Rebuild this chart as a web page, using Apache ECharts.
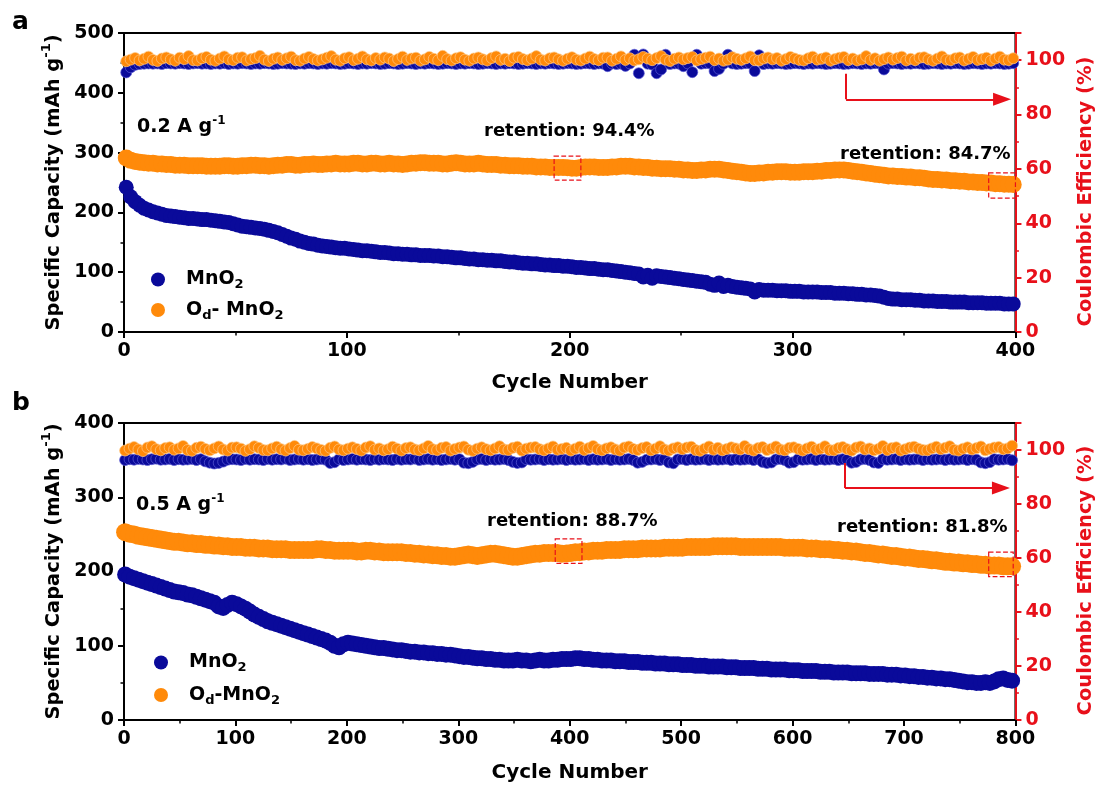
<!DOCTYPE html>
<html>
<head>
<meta charset="utf-8">
<script src="https://cdn.jsdelivr.net/npm/echarts@6/dist/echarts.min.js"></script>
<style>
  html, body { margin: 0; padding: 0; background: #fff; }
  #chart { width: 1104px; height: 785px; }
</style>
</head>
<body>
<div id="chart"></div>
<script>
// ---------- Panel a: 0.2 A g-1, sampled every 2nd cycle ----------
const cyclesA = Array.from({ length: 200 }, (_, i) => 1 + 2 * i);

const capA_MnO2 = [
  242, 226, 218, 212, 207, 204, 201, 199, 197, 195, 194, 193, 192, 191, 190, 190, 189, 188, 188, 187,
  186, 185, 184, 183, 181, 179, 177, 176, 175, 174, 173, 172, 170, 168, 166, 163, 160, 157, 155, 152,
  150, 148, 147, 145, 144, 143, 142, 141, 140, 140, 139, 138, 137, 136, 136, 135, 134, 133, 133, 132,
  131, 131, 130, 130, 129, 129, 128, 128, 128, 127, 127, 126, 126, 125, 124, 124, 123, 122, 122, 121,
  121, 120, 120, 119, 119, 118, 117, 117, 116, 115, 115, 114, 114, 113, 112, 112, 111, 111, 110, 110,
  109, 108, 108, 107, 106, 106, 105, 104, 104, 103, 102, 101, 100, 99, 98, 97, 92, 95, 90, 94,
  93, 92, 91, 90, 89, 88, 87, 86, 85, 84, 83, 80, 78, 82, 76, 78, 76, 75, 74, 73,
  72, 67, 71, 70, 70, 70, 69, 69, 69, 68, 68, 68, 67, 67, 67, 67, 66, 66, 66, 65,
  65, 65, 64, 64, 63, 63, 62, 62, 61, 60, 58, 56, 55, 55, 54, 54, 54, 53, 53, 52,
  52, 52, 51, 51, 51, 50, 50, 50, 50, 49, 49, 49, 49, 48, 48, 48, 48, 47, 47, 47
];

const capA_Od = [
  291, 287, 285, 284, 283, 282, 282, 281, 281, 280, 280, 279, 279, 279, 278, 278, 278, 278, 277, 277,
  277, 277, 278, 278, 277, 277, 278, 278, 279, 279, 278, 278, 277, 278, 279, 279, 280, 280, 279, 279,
  280, 280, 281, 280, 280, 281, 281, 282, 281, 281, 281, 282, 282, 281, 281, 282, 282, 281, 281, 282,
  281, 281, 280, 281, 282, 282, 283, 283, 282, 282, 282, 281, 281, 282, 283, 282, 281, 281, 281, 282,
  281, 280, 280, 280, 279, 279, 278, 278, 278, 277, 277, 277, 276, 276, 276, 275, 275, 275, 275, 274.7,
  274, 274, 275, 276, 276, 276, 275, 275, 275, 276, 276, 277, 277, 277, 276, 276, 275, 275, 274, 274,
  273, 273, 273, 272, 272, 271, 271, 270, 270, 271, 271, 272, 272, 272, 271, 270, 269, 268, 267, 266,
  265, 265, 266, 266, 267, 267, 268, 268, 268, 267, 267, 267, 268, 268, 268, 269, 269, 270, 270, 271,
  271, 271, 270, 269, 268, 267, 266, 265, 264, 263, 262, 261, 261, 260, 260, 259, 259, 258, 258, 257,
  256, 255, 255, 254, 254, 253, 253, 252, 252, 251, 251, 250, 250, 249, 249, 248, 248, 247, 247, 246.5
];

const ceA_MnO2 = [
  95.5, 97.4, 98.3, 98.6, 98.7, 98.8, 98.7, 98.8, 98.6, 98.9, 98.8, 98.7, 98.9, 98.8, 98.6, 98.8, 98.9, 98.7, 98.8, 98.6,
  98.8, 98.7, 98.9, 98.6, 98.8, 98.7, 98.9, 98.8, 98.6, 98.8, 98.7, 98.9, 98.8, 98.6, 98.7, 98.9, 98.8, 98.7, 98.6, 98.8,
  98.7, 98.9, 98.8, 98.6, 98.8, 98.7, 98.9, 98.8, 98.6, 98.7, 98.9, 98.8, 98.6, 98.8, 98.7, 98.9, 98.8, 98.6, 98.7, 98.9,
  98.8, 98.6, 98.7, 98.9, 98.8, 98.6, 98.8, 98.7, 98.9, 98.8, 98.6, 98.7, 98.9, 98.8, 98.6, 98.8, 98.7, 98.9, 98.8, 98.6,
  98.7, 98.9, 98.8, 98.6, 98.8, 98.7, 98.9, 98.8, 98.6, 98.7, 98.9, 98.8, 98.6, 98.8, 98.7, 98.9, 98.8, 98.6, 98.7, 98.9,
  98.8, 98.6, 98.7, 98.9, 98.8, 98.6, 98.8, 98.7, 97.8, 98.8, 98.6, 98.7, 97.9, 98.8, 102.0, 95.2, 102.1, 98.7, 98.4, 95.2,
  96.6, 102.0, 98.6, 98.8, 98.7, 97.8, 98.8, 95.6, 102.0, 98.7, 98.9, 98.8, 96.0, 96.8, 98.7, 102.0, 98.8, 98.6, 98.7, 98.9,
  98.8, 96.0, 101.8, 98.6, 98.8, 98.7, 98.9, 98.8, 98.6, 98.7, 98.9, 98.8, 98.6, 98.8, 98.7, 98.9, 98.8, 98.6, 98.7, 98.9,
  98.8, 98.6, 98.7, 98.9, 98.8, 98.6, 98.8, 98.7, 98.9, 98.8, 96.6, 98.7, 98.9, 98.8, 98.6, 98.8, 98.7, 98.9, 98.8, 98.6,
  98.7, 98.9, 98.8, 98.6, 98.8, 98.7, 98.9, 98.8, 98.6, 98.7, 98.9, 98.8, 98.6, 98.8, 98.7, 98.9, 98.8, 98.6, 98.7, 98.9
];

const ceA_Od = [
  99.6, 100.2, 100.8, 99.9, 100.5, 101.3, 100.1, 99.7, 100.6, 101.0, 100.3, 99.8, 100.9, 100.4, 101.5, 100.0, 99.9, 100.7, 101.2, 100.2,
  99.8, 100.6, 101.4, 100.3, 100.0, 100.9, 101.1, 99.9, 100.4, 100.8, 101.6, 100.2, 99.7, 100.5, 101.0, 100.1, 100.7, 101.3, 100.0, 99.8,
  100.6, 101.2, 100.4, 99.9, 100.3, 100.9, 101.5, 100.2, 99.8, 100.7, 101.1, 100.0, 100.5, 101.4, 100.3, 99.9, 100.8, 100.2, 101.0, 100.6,
  99.7, 100.4, 101.3, 100.1, 100.6, 100.9, 99.8, 100.3, 101.2, 100.5, 100.0, 101.6, 100.4, 99.9, 100.7, 101.1, 100.2, 99.8, 100.6, 101.0,
  100.3, 99.9, 100.8, 101.4, 100.1, 100.5, 99.7, 100.9, 101.2, 100.4, 100.0, 100.6, 101.5, 100.2, 99.9, 100.7, 101.0, 100.3, 99.8, 100.5,
  101.1, 100.2, 99.9, 100.6, 101.3, 100.4, 100.0, 100.9, 101.0, 99.8, 100.5, 101.4, 100.1, 100.7, 99.9, 100.3, 101.2, 100.6, 100.0, 100.8,
  101.5, 100.2, 99.7, 100.5, 101.0, 100.3, 100.8, 101.2, 99.9, 100.4, 100.9, 101.3, 100.0, 100.6, 99.8, 100.2, 101.1, 100.5, 100.1, 100.7,
  101.4, 100.0, 99.9, 100.6, 101.0, 100.3, 100.8, 99.8, 100.4, 101.2, 100.6, 100.1, 99.9, 100.7, 101.3, 100.2, 100.5, 101.0, 99.8, 100.4,
  100.9, 101.2, 100.0, 100.6, 99.9, 100.3, 101.5, 100.1, 100.7, 99.8, 100.4, 101.0, 100.2, 100.8, 101.3, 99.9, 100.5, 100.0, 100.9, 101.1,
  100.3, 99.8, 100.6, 101.4, 100.2, 100.0, 100.7, 101.0, 99.9, 100.5, 101.2, 100.1, 100.4, 100.9, 99.8, 100.6, 101.3, 100.2, 100.0, 100.7
];

// ---------- Panel b: 0.5 A g-1, sampled every 4th cycle ----------
const cyclesB = Array.from({ length: 200 }, (_, i) => 1 + 4 * i);

const capB_MnO2 = [
  196, 193, 191, 189, 187, 185, 183, 181, 179, 177, 175, 173, 172, 171, 169, 168, 166, 164, 162, 160,
  158, 153, 151, 155, 158, 156, 153, 150, 146, 142, 139, 136, 133, 131, 129, 127, 125, 123, 121, 119,
  117, 115, 113, 111, 109, 107, 104, 100, 98, 102, 104, 103, 102, 101, 100, 99, 98, 97, 97, 96,
  95, 94, 94, 93, 92, 92, 91, 91, 90, 90, 89, 89, 88, 88, 87, 86, 85, 85, 84, 83,
  83, 82, 82, 81, 81, 80, 80, 80, 81, 80, 80, 79, 80, 81, 80, 80, 81, 81, 82, 82,
  82, 83, 83, 82, 82, 81, 81, 80, 80, 80, 79, 79, 79, 78, 78, 78, 77, 77, 77, 76,
  76, 76, 75, 75, 75, 74, 74, 74, 73, 73, 73, 72, 72, 72, 72, 71, 71, 71, 70, 70,
  70, 70, 69, 69, 69, 68, 68, 68, 68, 67, 67, 67, 66, 66, 66, 66, 65, 65, 65, 64,
  64, 64, 64, 63, 63, 63, 63, 62, 62, 62, 62, 61, 61, 61, 60, 60, 59, 59, 58, 58,
  57, 57, 56, 56, 55, 55, 54, 53, 52, 51, 51, 50, 50, 51, 50, 52, 55, 56, 54, 53
];

const capB_Od = [
  253, 251, 250, 248, 247, 246, 245, 244, 243, 242, 241, 240, 240, 239, 238, 238, 237, 237, 236, 236,
  235, 235, 234, 234, 233, 233, 233, 232, 232, 232, 231, 231, 231, 230, 230, 230, 230, 229, 229, 229,
  229, 229, 229, 230, 230, 229, 229, 228, 228, 228, 228, 228, 227, 227, 228, 228, 227, 227, 226, 226,
  226, 226, 226, 225, 225, 224, 224, 223, 223, 222, 222, 221, 221, 220, 220, 221, 222, 223, 222, 221,
  222, 223, 224, 224, 223, 222, 221, 220, 220, 221, 222, 223, 224, 224, 225, 225, 225, 225, 224, 224.4,
  225, 226, 226, 227, 227, 228, 228, 228, 229, 229, 229, 229, 230, 230, 230, 230, 231, 231, 231, 231,
  231, 232, 232, 232, 232, 232, 233, 233, 233, 233, 233, 233, 234, 234, 234, 234, 234, 234, 233, 233,
  233, 233, 233, 233, 233, 233, 233, 233, 232, 232, 232, 232, 232, 231, 231, 231, 230, 230, 230, 229,
  229, 228, 228, 227, 227, 226, 225, 225, 224, 223, 223, 222, 221, 221, 220, 219, 219, 218, 217, 217,
  216, 215, 215, 214, 213, 213, 212, 212, 211, 211, 210, 210, 209, 209, 208, 208, 208, 207, 207, 207
];

const ceB_MnO2 = [
  96.3, 96.6, 96.4, 96.7, 96.5, 96.3, 96.6, 96.8, 96.4, 96.5, 96.7, 96.3, 96.6, 96.4, 96.5, 96.7, 96.3, 96.6, 95.8, 95.3,
  95.0, 95.2, 95.7, 96.4, 96.6, 96.5, 96.3, 96.7, 96.4, 96.6, 96.5, 96.3, 96.7, 96.4, 96.6, 96.5, 96.8, 96.3, 96.5, 96.7,
  96.4, 96.6, 96.3, 96.5, 96.7, 96.4, 95.2, 95.5, 96.6, 96.3, 96.5, 96.7, 96.4, 96.6, 96.5, 96.3, 96.7, 96.4, 96.6, 96.5,
  96.3, 96.7, 96.4, 96.6, 96.5, 96.8, 96.3, 96.5, 96.7, 96.4, 96.6, 96.3, 96.5, 96.7, 96.4, 96.6, 95.3, 95.1, 95.6, 96.5,
  96.7, 96.3, 96.6, 96.4, 96.5, 96.7, 96.3, 95.6, 95.2, 95.4, 96.6, 96.4, 96.5, 96.7, 96.3, 96.6, 96.4, 96.5, 96.7, 96.3,
  96.6, 96.4, 96.5, 96.7, 96.3, 96.6, 96.4, 96.5, 96.7, 96.3, 96.6, 96.4, 96.5, 96.7, 96.3, 95.3, 95.6, 96.4, 96.5, 96.7,
  96.3, 96.6, 95.4, 95.1, 96.5, 96.7, 96.3, 96.6, 96.4, 96.5, 96.7, 96.3, 96.6, 96.4, 96.5, 96.7, 96.3, 96.6, 96.4, 96.5,
  96.7, 96.3, 96.6, 95.6, 95.2, 95.4, 96.5, 96.7, 96.3, 95.3, 95.5, 96.6, 96.4, 96.5, 96.7, 96.3, 96.6, 96.4, 96.5, 96.7,
  96.3, 96.6, 96.4, 95.3, 95.6, 96.5, 96.7, 96.3, 95.4, 95.2, 96.6, 96.4, 96.5, 96.7, 96.3, 96.6, 96.4, 96.5, 96.7, 96.3,
  96.6, 96.4, 96.5, 96.7, 96.3, 96.6, 96.4, 96.5, 96.7, 96.3, 96.6, 96.4, 95.4, 95.1, 95.5, 96.6, 96.4, 96.5, 96.7, 96.2
];

const ceB_Od = [
  99.8, 100.5, 101.1, 100.2, 99.6, 100.9, 101.4, 100.3, 99.9, 100.7, 101.0, 100.1, 100.6, 101.5, 100.0, 99.7, 100.8, 101.2, 100.4, 99.9,
  100.6, 101.3, 100.2, 99.8, 100.9, 101.0, 100.5, 99.7, 100.3, 101.4, 100.8, 100.0, 99.9, 100.6, 101.2, 100.3, 99.8, 100.7, 101.5, 100.1,
  99.9, 100.4, 101.1, 100.6, 100.0, 99.7, 100.8, 101.3, 100.2, 99.9, 100.5, 101.0, 100.4, 99.8, 100.9, 101.4, 100.1, 100.6, 99.9, 100.3,
  101.2, 100.5, 99.8, 100.7, 101.0, 100.2, 99.9, 100.6, 101.5, 100.3, 100.0, 100.8, 101.1, 99.8, 100.4, 100.9, 101.3, 100.1, 99.7, 100.5,
  101.0, 100.3, 99.9, 100.6, 101.4, 100.2, 100.0, 100.8, 101.2, 99.8, 100.5, 100.9, 101.1, 100.3, 99.9, 100.6, 101.3, 100.1, 100.4, 100.8,
  99.8, 100.5, 101.2, 100.0, 100.7, 101.5, 100.3, 99.9, 100.6, 101.0, 100.2, 99.8, 100.9, 101.3, 100.4, 100.0, 100.7, 101.1, 99.9, 100.5,
  101.4, 100.2, 99.8, 100.6, 101.0, 100.3, 100.9, 101.2, 100.0, 99.7, 100.5, 101.3, 100.1, 100.8, 99.9, 100.4, 101.0, 100.6, 100.2, 101.5,
  100.3, 99.8, 100.7, 101.1, 100.0, 100.5, 101.3, 100.2, 99.9, 100.8, 101.0, 100.4, 99.8, 100.6, 101.2, 100.1, 100.5, 101.4, 100.0, 99.9,
  100.7, 101.1, 100.3, 99.8, 100.9, 101.3, 100.2, 100.6, 99.9, 100.4, 101.5, 100.0, 100.7, 101.0, 99.8, 100.3, 100.9, 101.2, 100.5, 100.0,
  99.9, 100.6, 101.2, 100.3, 100.8, 101.4, 100.1, 99.8, 100.5, 101.0, 100.2, 100.7, 101.3, 99.9, 100.4, 100.9, 101.1, 100.3, 100.6, 101.6
];

// Annotation texts and legend labels
const panelLabels = ['a', 'b'];
const rateLabels = ['0.2 A g', '0.5 A g'];
const retentionLabels = ['retention: 94.4%', 'retention: 84.7%', 'retention: 88.7%', 'retention: 81.8%'];
const seriesNames = ['MnO2', 'Od-MnO2'];

// ---------- styling ----------
const FONT = '"DejaVu Sans", "Liberation Sans", Arial, sans-serif';
const BLUE = '#0a0a9a';
const ORANGE = '#ff8a0a';
const RED = '#e8101a';
const BLACK = '#000';

const pts = (xs, ys) => ys.map((v, i) => [xs[i], v]);

function axisStyle(color) {
  return {
    axisLine: { show: true, onZero: false, lineStyle: { color, width: 2 } },
    axisTick: { show: true, length: 6, lineStyle: { color, width: 2 } },
    minorTick: { show: true, splitNumber: 2, length: 3.5, lineStyle: { color, width: 1.5 } },
    axisLabel: { color, fontFamily: FONT, fontWeight: 'bold', fontSize: 19, margin: 10 },
    splitLine: { show: false },
    minorSplitLine: { show: false }
  };
}

const titleRich = color => ({
  t: { fontFamily: FONT, fontWeight: 'bold', fontSize: 19.5, color, lineHeight: 26 },
  s: { fontFamily: FONT, fontWeight: 'bold', fontSize: 13, color, lineHeight: 13, verticalAlign: 'top' }
});

function xAxisFor(gridIndex, max, gap) {
  return Object.assign({
    type: 'value', gridIndex, min: 0, max, interval: 100,
    name: 'Cycle Number', nameLocation: 'middle', nameGap: gap,
    nameTextStyle: { fontFamily: FONT, fontWeight: 'bold', fontSize: 20, color: BLACK }
  }, axisStyle(BLACK));
}

function leftYFor(gridIndex, max) {
  return Object.assign({
    type: 'value', gridIndex, min: 0, max, interval: 100, position: 'left',
    name: '{t|Specific Capacity (mAh g}{s|-1}{t|)}', nameLocation: 'middle', nameGap: 56,
    nameTextStyle: { rich: titleRich(BLACK) }
  }, axisStyle(BLACK));
}

function rightYFor(gridIndex) {
  const a = Object.assign({
    type: 'value', gridIndex, min: 0, max: 110, interval: 20, position: 'right',
    name: '{t|Coulombic Efficiency (%)}', nameLocation: 'middle', nameGap: 52,
    nameTextStyle: { rich: titleRich(RED), padding: [0, 18, 0, 0] }
  }, axisStyle(RED));
  a.axisLabel.showMaxLabel = false;
  return a;
}

const legendRich = {
  n0: { fontFamily: FONT, fontWeight: 'bold', fontSize: 19, color: BLACK, lineHeight: 24, padding: [0, 0, 0, 16] },
  n: { fontFamily: FONT, fontWeight: 'bold', fontSize: 19, color: BLACK, lineHeight: 24 },
  sub: { fontFamily: FONT, fontWeight: 'bold', fontSize: 13, color: BLACK, lineHeight: 13, verticalAlign: 'bottom' }
};

function legendFor(left, top, gap, odSep) {
  return {
    orient: 'vertical', left, top, itemGap: gap, itemWidth: 14, itemHeight: 14,
    icon: 'circle', selectedMode: false,
    itemStyle: { opacity: 1, borderWidth: 0 },
    data: seriesNames,
    formatter: name => name === 'MnO2'
      ? '{n0|MnO}{sub|2}'
      : '{n0|O}{sub|d}{n|' + odSep + 'MnO}{sub|2}',
    textStyle: { rich: legendRich }
  };
}

// Scatter series; the CE markers carry a pale rim like open-circle markers stacked densely
function scatter(name, data, xi, yi, color, size, rim, extra) {
  return Object.assign({
    type: 'scatter', name, data, xAxisIndex: xi, yAxisIndex: yi,
    symbol: 'circle', symbolSize: size, animation: false, silent: true,
    itemStyle: {
      color, opacity: 1,
      borderColor: rim ? (color === ORANGE ? '#ffc987' : '#5c5cd6') : color,
      borderWidth: rim ? 0.7 : 0
    }
  }, extra || {});
}

// dashed boxes marking the retention points, and the arrow pointing to the CE axis
const boxStyle = { color: 'rgba(0,0,0,0)', borderColor: RED, borderWidth: 1.2, borderType: 'dashed' };
const arrowLine = (x0, yTop, yBend, x1) => ({
  silent: true, z: 6, symbol: ['none', 'none'], label: { show: false },
  lineStyle: { color: RED, width: 2, type: 'solid' },
  data: [
    [{ coord: [x0, yTop] }, { coord: [x0, yBend] }],
    [{ coord: [x0, yBend] }, { coord: [x1, yBend], symbol: 'triangle', symbolSize: [13, 18] }]
  ]
});

const textRich = {
  t: { fontFamily: FONT, fontWeight: 'bold', fontSize: 19, fill: BLACK, color: BLACK, lineHeight: 24 },
  s: { fontFamily: FONT, fontWeight: 'bold', fontSize: 12, fill: BLACK, color: BLACK, lineHeight: 12, verticalAlign: 'top' }
};
const label = (left, top, text, size) => ({
  type: 'text', left, top, silent: true,
  style: { text, fill: BLACK, fontFamily: FONT, fontWeight: 'bold', fontSize: size }
});
const richLabel = (left, top, text) => ({
  type: 'text', left, top, silent: true,
  style: { text, rich: textRich }
});

const option = {
  backgroundColor: '#fff',
  animation: false,
  grid: [
    { left: 124, right: 84, top: 33, height: 299, show: true, borderColor: BLACK, borderWidth: 2 },
    { left: 124, right: 86, top: 423, height: 297, show: true, borderColor: BLACK, borderWidth: 2 }
  ],
  xAxis: [xAxisFor(0, 400, 41), xAxisFor(1, 800, 43)],
  yAxis: [leftYFor(0, 500), rightYFor(0), leftYFor(1, 400), rightYFor(1)],
  legend: [legendFor(146, 265, 9, '- '), legendFor(149, 648, 11, '-')],
  series: [
    scatter('MnO2', pts(cyclesA, ceA_MnO2), 0, 1, BLUE, 11, true),
    scatter('Od-MnO2', pts(cyclesA, ceA_Od), 0, 1, ORANGE, 11, true,
      { markLine: arrowLine(324, 95, 85.6, 394) }),
    scatter('MnO2', pts(cyclesA, capA_MnO2), 0, 0, BLUE, 15, false),
    scatter('Od-MnO2', pts(cyclesA, capA_Od), 0, 0, ORANGE, 17, false, {
      markArea: { silent: true, z: 10, itemStyle: boxStyle,
        data: [[{ coord: [193, 294] }, { coord: [205, 254] }],
               [{ coord: [388, 266] }, { coord: [400, 224] }]] }
    }),

    scatter('MnO2', pts(cyclesB, ceB_MnO2), 1, 3, BLUE, 11, true),
    scatter('Od-MnO2', pts(cyclesB, ceB_Od), 1, 3, ORANGE, 11, true,
      { markLine: arrowLine(647, 95.2, 85.9, 787) }),
    scatter('MnO2', pts(cyclesB, capB_MnO2), 1, 2, BLUE, 16, false),
    scatter('Od-MnO2', pts(cyclesB, capB_Od), 1, 2, ORANGE, 18, false, {
      markArea: { silent: true, z: 10, itemStyle: boxStyle,
        data: [[{ coord: [387, 244] }, { coord: [411, 211] }],
               [{ coord: [776, 226] }, { coord: [798, 193] }]] }
    })
  ],
  graphic: [
    label(12, 10, panelLabels[0], 25),
    label(12, 391, panelLabels[1], 25),
    richLabel(137, 115, '{t|' + rateLabels[0] + '}{s|-1}'),
    richLabel(136, 493, '{t|' + rateLabels[1] + '}{s|-1}'),
    label(484, 122, retentionLabels[0], 18),
    label(840, 145, retentionLabels[1], 18),
    label(487, 512, retentionLabels[2], 18),
    label(837, 518, retentionLabels[3], 18)
  ]
};

const chart = echarts.init(document.getElementById('chart'), null, { renderer: 'canvas' });
chart.setOption(option);
</script>
</body>
</html>
